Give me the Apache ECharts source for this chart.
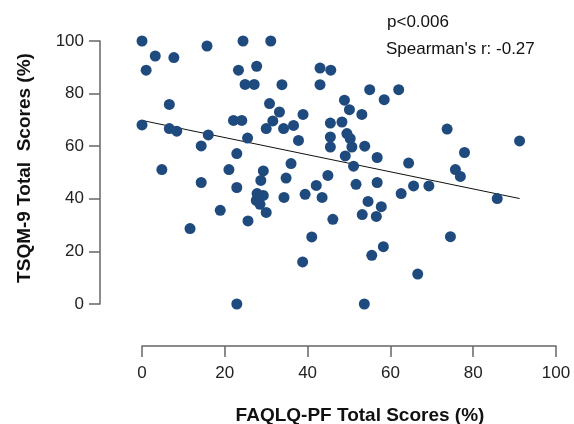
<!DOCTYPE html>
<html>
<head>
<meta charset="utf-8">
<script src="https://cdn.jsdelivr.net/npm/echarts@6/dist/echarts.min.js"></script>
<style>
  html, body { margin: 0; padding: 0; background: #fff; }
  #chart { width: 574px; height: 424px; }
</style>
</head>
<body>
<div id="chart"></div>
<script>
// FAQLQ-PF (x) vs TSQM-9 (y)
var faqlqScores = [
  0, 1, 3.2, 7.7, 15.7, 24.4, 31.1, 0, 6.6, 6.6,
  8.4, 16, 14.3, 4.8, 21, 22.9, 23.3, 27.7, 24.9, 27.1,
  33.8, 43, 45.6, 43, 30.8, 33.2, 38.9, 22.1, 24.1, 31.6,
  30, 34.2, 36.6, 45.5, 25.5, 37.8, 45.5, 45.5, 36, 29.3,
  55, 62, 48.9, 58.5, 50.1, 53.1, 48.3, 49.5, 50.3, 50.7,
  53.8, 49.1, 56.8, 64.4, 51.1, 73.7, 91.2, 77.9, 75.7, 76.9,
  14.3, 22.9, 18.9, 11.6, 22.9, 44.9, 28.7, 34.8, 42.1, 27.8,
  29.3, 27.6, 28.5, 34.3, 39.4, 43.5, 30, 25.6, 46.1, 41,
  38.8, 51.7, 56.8, 62.6, 65.6, 69.3, 54.6, 57.8, 53.2, 56.6,
  58.3, 55.5, 66.6, 53.7, 85.8, 74.5
];
var tsqmScores = [
  100, 88.9, 94.3, 93.7, 98.1, 100, 100, 68.1, 75.9, 66.7,
  65.7, 64.3, 60.1, 51.1, 51.1, 57.2, 88.9, 90.4, 83.5, 83.5,
  83.4, 89.7, 88.9, 83.4, 76.2, 73, 72.1, 69.8, 69.8, 69.6,
  66.7, 66.7, 67.9, 68.8, 63.1, 62.2, 63.5, 59.7, 53.4, 50.6,
  81.5, 81.5, 77.5, 77.7, 73.9, 72.1, 69.2, 64.8, 62.9, 59.7,
  60, 56.3, 55.7, 53.6, 52.4, 66.5, 62, 57.6, 51.1, 48.5,
  46.2, 44.3, 35.6, 28.7, 0, 48.9, 47, 47.9, 45.1, 42,
  41.3, 39.4, 37.9, 40.5, 41.7, 40.5, 34.8, 31.6, 32.2, 25.5,
  16, 45.5, 46.2, 42, 44.9, 44.9, 39, 37, 34, 33.3,
  21.8, 18.5, 11.4, 0, 40.1, 25.6
];
// fitted line end points
var fitX = [0, 91.2];
var fitY = [69.8, 40.1];
var axisTicks = [0, 20, 40, 60, 80, 100];

var FONT = "'Liberation Sans', Arial, sans-serif";
var chart = echarts.init(document.getElementById('chart'));

var axisLineStyle = { color: '#666', width: 1.5 };

chart.setOption({
  backgroundColor: '#fff',
  animation: false,
  textStyle: { fontFamily: FONT },
  grid: { left: 142, right: 18, top: 41, bottom: 120, outerBoundsMode: 'none' },
  xAxis: {
    type: 'value',
    min: axisTicks[0],
    max: axisTicks[axisTicks.length - 1],
    interval: 20,
    offset: 42,
    name: 'FAQLQ-PF Total Scores (%)',
    nameLocation: 'middle',
    nameGap: 60,
    nameTextStyle: { fontFamily: FONT, fontSize: 19, fontWeight: 'bold', color: '#111', padding: [0, 0, 0, 22] },
    axisLine: { show: true, onZero: false, lineStyle: axisLineStyle },
    axisTick: { show: true, length: 11, lineStyle: axisLineStyle },
    axisLabel: { fontFamily: FONT, fontSize: 17, color: '#222', margin: 19 },
    splitLine: { show: false }
  },
  yAxis: {
    type: 'value',
    min: axisTicks[0],
    max: axisTicks[axisTicks.length - 1],
    interval: 20,
    offset: 42,
    name: 'TSQM-9 Total  Scores (%)',
    nameLocation: 'middle',
    nameGap: 66,
    nameTextStyle: { fontFamily: FONT, fontSize: 19, fontWeight: 'bold', color: '#111', padding: [0, 0, 0, 9] },
    axisLine: { show: true, onZero: false, lineStyle: axisLineStyle },
    axisTick: { show: true, length: 11, lineStyle: axisLineStyle },
    axisLabel: { fontFamily: FONT, fontSize: 17, color: '#222', margin: 16 },
    splitLine: { show: false }
  },
  graphic: [
    { type: 'text', left: 387, top: 14, style: { text: 'p<0.006', font: '17px ' + FONT, fill: '#111' } },
    { type: 'text', left: 386, top: 41, style: { text: "Spearman's r: -0.27", font: '17px ' + FONT, fill: '#111' } }
  ],
  series: [
    {
      type: 'line',
      data: fitX.map(function (x, i) { return [x, fitY[i]]; }),
      symbol: 'none',
      lineStyle: { color: '#111', width: 1 },
      z: 1
    },
    {
      type: 'scatter',
      data: faqlqScores.map(function (x, i) { return [x, tsqmScores[i]]; }),
      symbolSize: 11,
      clip: false,
      itemStyle: { color: '#1f4a7e', opacity: 1 },
      z: 2
    }
  ]
});

window.addEventListener('resize', function () {
  chart.resize();
});
</script>
</body>
</html>
